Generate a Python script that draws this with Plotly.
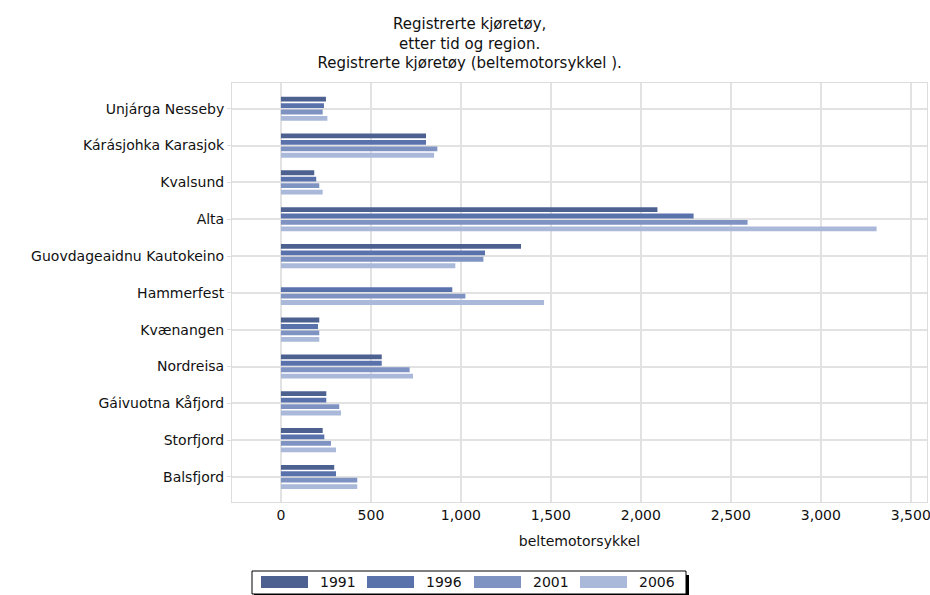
import plotly.graph_objects as go

regions = ["Unjárga Nesseby", "Kárásjohka Karasjok", "Kvalsund", "Alta",
           "Guovdageaidnu Kautokeino", "Hammerfest", "Kvænangen", "Nordreisa",
           "Gáivuotna Kåfjord", "Storfjord", "Balsfjord"]
years = ["1991", "1996", "2001", "2006"]
v1991 = [250, 806, 185, 2092, 1334, 0, 213, 560, 252, 232, 296]
v1996 = [239, 806, 196, 2293, 1134, 952, 206, 560, 252, 241, 306]
v2001 = [232, 869, 213, 2593, 1125, 1025, 213, 715, 324, 278, 424]
v2006 = [258, 851, 232, 3310, 969, 1462, 213, 734, 334, 306, 424]
colors = ["#4d6190", "#5a72ab", "#7f93c3", "#aab8da"]
tickvals = [0, 500, 1000, 1500, 2000, 2500, 3000, 3500]
ticktext = ["0", "500", "1,000", "1,500", "2,000", "2,500", "3,000", "3,500"]

series = [v1991, v1996, v2001, v2006]
fig = go.Figure()
for name, vals, c in zip(years, series, colors):
    fig.add_trace(go.Bar(y=regions, x=vals, name=name, orientation="h",
                         marker=dict(color=c, line=dict(width=0)), showlegend=False))

# plot area in pixels
L, R, T, B = 232, 927, 83, 502
W, H = R - L, B - T
def px(x):
    return (x - L) / W
def py(y):
    return (B - y) / H

font = "DejaVu Sans"
shapes = []
annotations = []
# custom legend box with shadow
shapes.append(dict(type="rect", xref="paper", yref="paper", x0=px(254), x1=px(689),
                   y0=py(596), y1=py(575), fillcolor="black", line=dict(width=0), layer="above"))
shapes.append(dict(type="rect", xref="paper", yref="paper", x0=px(252), x1=px(686),
                   y0=py(594), y1=py(571), fillcolor="white", line=dict(color="black", width=1), layer="above"))
sw_x = [261, 367, 474, 580]
for i, (name, c) in enumerate(zip(years, colors)):
    x0 = sw_x[i]
    shapes.append(dict(type="rect", xref="paper", yref="paper", x0=px(x0), x1=px(x0 + 47),
                       y0=py(588), y1=py(576), fillcolor=c, line=dict(width=0), layer="above"))
    annotations.append(dict(text=name, xref="paper", yref="paper", x=px(x0 + 57), y=py(582),
                            xanchor="left", yanchor="middle", showarrow=False,
                            font=dict(family=font, size=14, color="#111111")))

fig.update_layout(
    width=930, height=595,
    margin=dict(l=L, r=930 - R, t=T, b=595 - B),
    paper_bgcolor="white", plot_bgcolor="white",
    barmode="group", bargap=0.3, bargroupgap=0.25,
    font=dict(family=font, size=14, color="#111111"),
    showlegend=False,
    title=dict(text="Registrerte kjøretøy,<br>etter tid og region.<br>Registrerte kjøretøy (beltemotorsykkel ).",
               x=0.505, xref="container", xanchor="center", y=0.951, yref="container", yanchor="top",
               font=dict(family=font, size=15, color="#111111")),
    xaxis=dict(range=[-272, 3590], tickvals=tickvals, ticktext=ticktext, automargin=False,
               ticklabeloverflow="allow",
               showgrid=True, gridcolor="#e2e2e2", gridwidth=1.5, zeroline=False,
               showline=True, linecolor="#dddddd", mirror=True,
               title=dict(text="beltemotorsykkel", font=dict(size=14), standoff=14),
               tickfont=dict(size=14)),
    yaxis=dict(range=[10.68, -0.7], showgrid=True, gridcolor="#e2e2e2", gridwidth=1.5,
               showline=True, linecolor="#dddddd", mirror=True, automargin=False,
               ticks="outside", ticklen=4, tickcolor="#dddddd",
               tickfont=dict(size=14)),
    shapes=shapes,
    annotations=annotations,
)
fig.write_html("out.html", config={"displayModeBar": False},
               post_script="document.body.style.margin='0';")
